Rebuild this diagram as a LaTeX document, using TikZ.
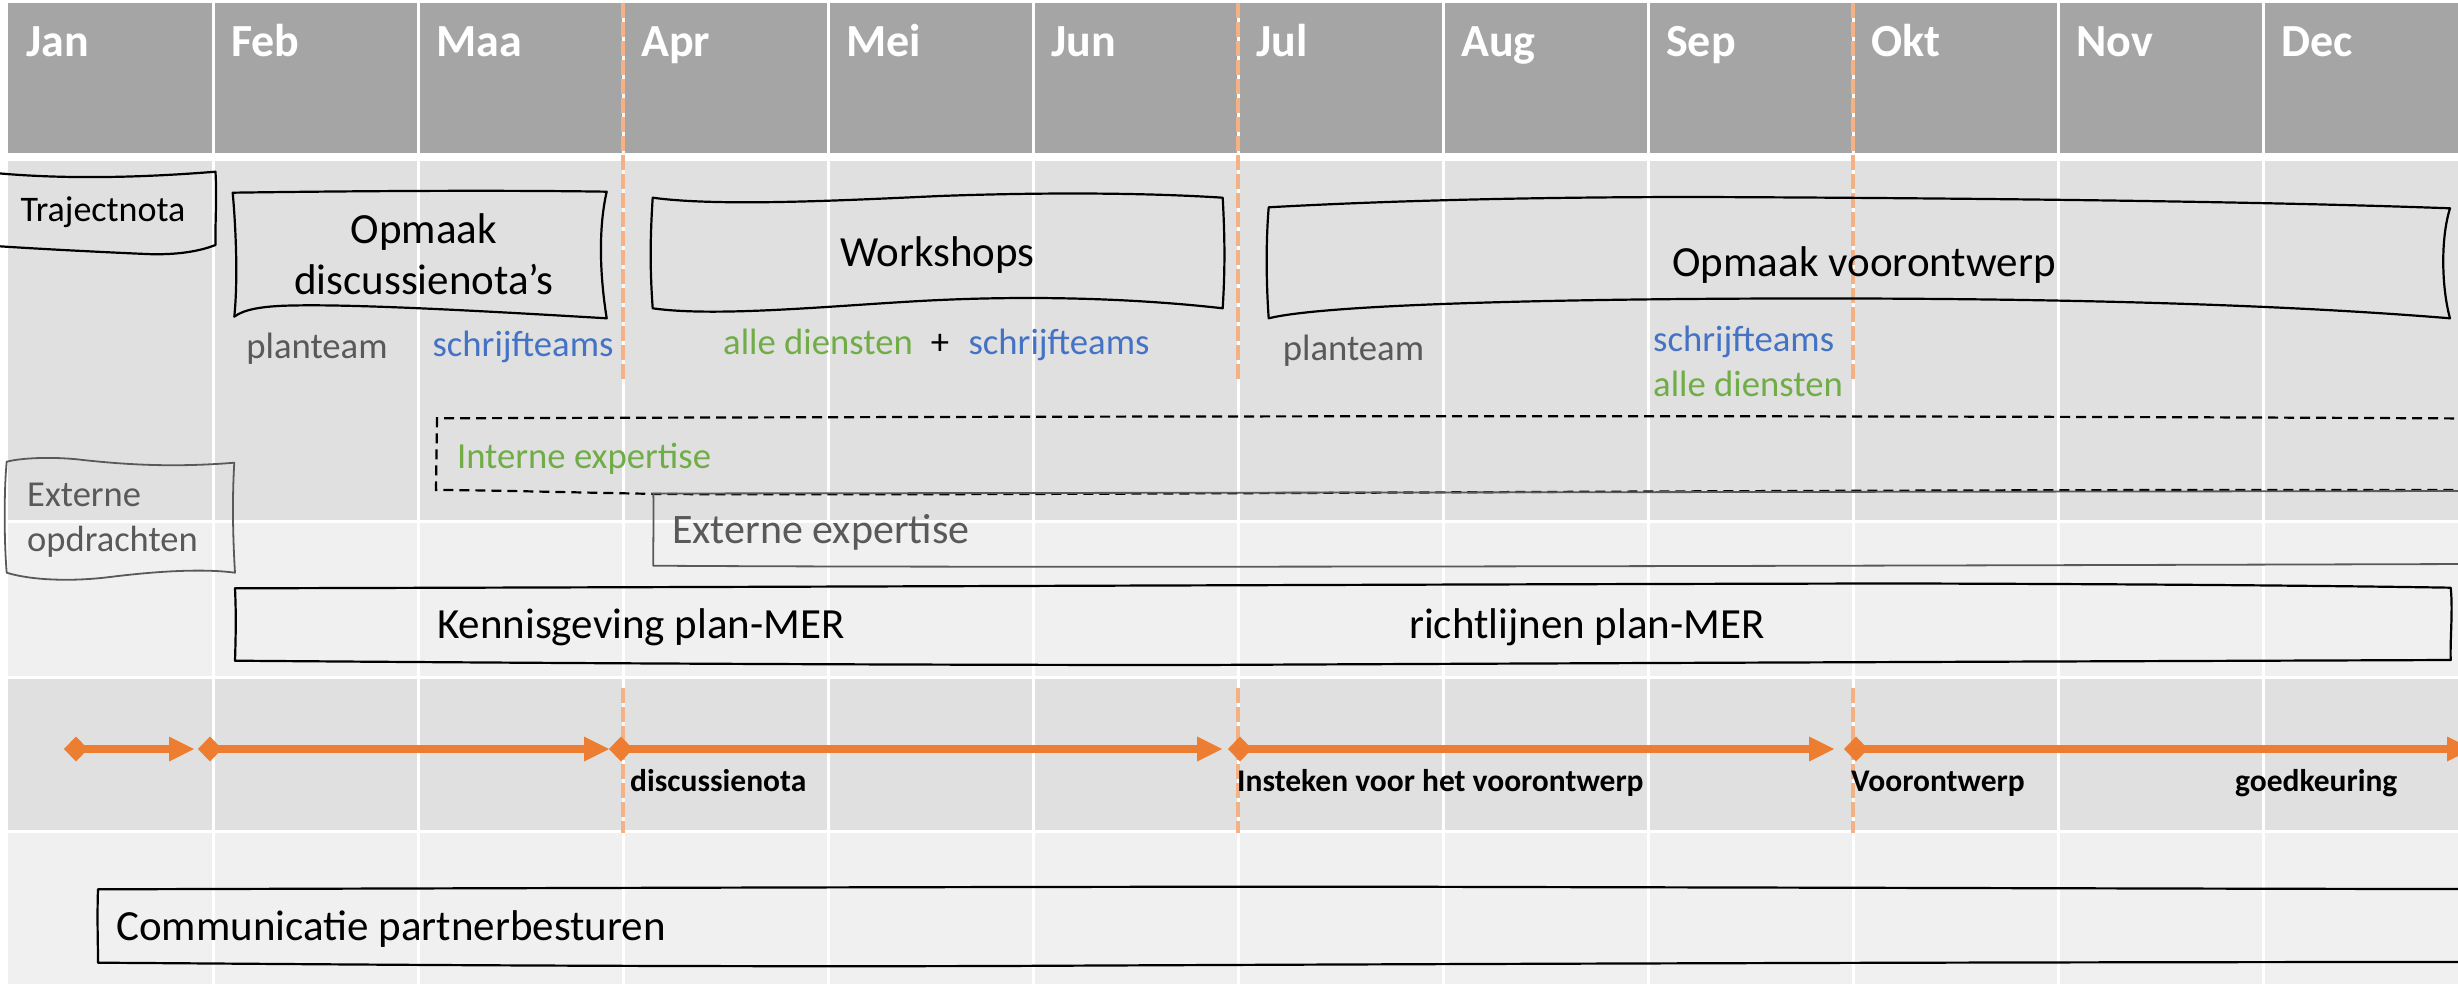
\documentclass[tikz,border=0pt]{standalone}
\usepackage{fontspec}
\setmainfont{Carlito}
\usetikzlibrary{arrows.meta}
\definecolor{hdr}{HTML}{A5A5A5}
\definecolor{bandA}{HTML}{E0E0E0}
\definecolor{bandB}{HTML}{F0F0F0}
\definecolor{txtgrey}{HTML}{595959}
\definecolor{blueT}{HTML}{4472C4}
\definecolor{greenT}{HTML}{70AD47}
\definecolor{orangeA}{HTML}{ED7D31}
\definecolor{orangeL}{HTML}{F4B183}
\begin{document}
\begin{tikzpicture}[x=1pt,y=-1pt,
  month/.style={anchor=base west,inner sep=0,text=white,font=\fontsize{46}{55}\selectfont\bfseries},
  boxline/.style={draw=black,line width=2.2pt,line join=round,line cap=round},
  greybox/.style={draw=txtgrey,line width=1.8pt,line join=round,line cap=round},
  boxtext/.style={anchor=base,inner sep=0,align=center,font=\fontsize{43}{51.7}\selectfont},
  smalltext/.style={anchor=base,inner sep=0,font=\fontsize{36.7}{45}\selectfont},
  milestone/.style={anchor=base west,inner sep=0,font=\fontsize{31.5}{38}\selectfont\bfseries},
  msarrow/.style={draw=orangeA,line width=8pt,{Diamond[length=24pt,width=25pt,line width=0pt]}-{Triangle[length=25pt,width=25pt,line width=0pt]}},
  msline/.style={draw=orangeL,line width=3.5pt,dash pattern=on 15pt off 4pt}]
\useasboundingbox (0,0) rectangle (2458,984);
% bands
\fill[hdr] (8,3) rectangle (2458,153);
\fill[bandA] (8,161) rectangle (2458,520);
\fill[bandB] (8,523) rectangle (2458,676);
\fill[bandA] (8,679) rectangle (2458,830);
\fill[bandB] (8,833) rectangle (2458,984);
\foreach \i in {1,...,11} \draw[white,line width=3pt] ({8+205*\i},0) -- ({8+205*\i},984);
% months
\foreach \m [count=\i from 0] in {Jan,Feb,Maa,Apr,Mei,Jun,Jul,Aug,Sep,Okt,Nov,Dec}
  \node[month] (m\i) at ({8+205*\i+18},57) {\m};
% milestone dashed lines
\foreach \x in {623,1238,1853} {
  \draw[msline] (\x,3) -- (\x,380);
  \draw[msline] (\x,688) -- (\x,833);
}
% Trajectnota
\draw[boxline] (-5,173) .. controls (70,180) and (150,177) .. (215.5,171.7)
  .. controls (217,200) and (215,225) .. (215.5,245)
  .. controls (195,253) and (170,255) .. (146,254)
  .. controls (100,252) and (40,249) .. (-5,246);
\node[boxtext,font=\fontsize{36}{43}\selectfont] (traj) at (103,221.7) {Trajectnota};
% Opmaak discussienota's
\draw[boxline] (232.7,192.7) .. controls (350,191) and (500,190) .. (606.7,191.7)
  .. controls (599,225) and (599,270) .. (606.7,318.3)
  .. controls (500,312) and (360,304) .. (293,305.5)
  .. controls (260,306) and (243,310) .. (234.3,316.7)
  .. controls (238,280) and (236,230) .. cycle;
\node[boxtext] (disc) at (424,295) {Opmaak\\discussienota’s};
% Workshops
\draw[boxline] (652.7,197.7) .. controls (720,207) and (850,200) .. (940,196)
  .. controls (1050,192) and (1150,193) .. (1222.7,197.7)
  .. controls (1225,240) and (1225,270) .. (1222.7,308.3)
  .. controls (1150,300) and (1050,295) .. (940,300)
  .. controls (850,304) and (720,318) .. (652.7,308.3)
  .. controls (650,270) and (650,240) .. cycle;
\node[boxtext] (work) at (937.5,266.7) {Workshops};
% Opmaak voorontwerp
\draw[boxline] (1268.7,207.3) .. controls (1400,200) and (1550,197) .. (1700,197)
  .. controls (1950,198) and (2250,201) .. (2450,208.3)
  .. controls (2440,240) and (2442,290) .. (2450,318.3)
  .. controls (2300,306) and (2100,299) .. (1850,298.5)
  .. controls (1600,298) and (1330,303) .. (1268.7,318.3)
  .. controls (1266,280) and (1266,240) .. cycle;
\node[boxtext] (voor) at (1864,276.7) {Opmaak voorontwerp};
% team labels
\node[smalltext,text=txtgrey] (pt1) at (317,358) {planteam};
\node[smalltext,text=blueT] (st1) at (523,356.7) {schrijfteams};
\node[smalltext,text=greenT] (ad1) at (818,355) {alle diensten};
\node[smalltext] (plus) at (940,355) {+};
\node[smalltext,text=blueT] (st2) at (1059,355) {schrijfteams};
\node[smalltext,text=txtgrey] (pt2) at (1353.5,360) {planteam};
\node[smalltext,text=blueT,anchor=base west] (st3) at (1653,351.7) {schrijfteams};
\node[smalltext,text=greenT,anchor=base west] (ad3) at (1653,396) {alle diensten};
% Interne expertise
\draw[line width=2.2pt,dash pattern=on 10pt off 6pt] (2470,418.5) .. controls (1800,415) and (1200,416) .. (437,418.3)
  -- (436,490) .. controls (480,490) and (550,492) .. (660,494)
  .. controls (1000,496) and (1800,489) .. (2470,490);
\node[smalltext,text=greenT] (intern) at (584,468.3) {Interne expertise};
% Externe expertise
\draw[greybox] (2470,491) .. controls (1800,492) and (1000,493) .. (653.3,493.5)
  .. controls (654,520) and (653,545) .. (653.3,565.7)
  .. controls (1000,568) and (1800,566) .. (2470,564);
\node[anchor=base west,inner sep=0,text=txtgrey,font=\fontsize{42}{50}\selectfont] (extexp) at (672,543.3) {Externe expertise};
% Externe opdrachten
\draw[greybox] (6.7,461.7) .. controls (25,457) and (60,457) .. (83,460)
  .. controls (120,464) and (170,468) .. (234.3,462.7)
  .. controls (232,500) and (233,540) .. (235,572.7)
  .. controls (200,568) and (150,572) .. (110,577)
  .. controls (70,582) and (30,580) .. (6.7,572.7)
  .. controls (4,540) and (4,490) .. cycle;
\node[anchor=base west,inner sep=0,align=left,text=txtgrey,font=\fontsize{36.5}{45}\selectfont] (extopd) at (27,551.7) {Externe\\opdrachten};
% Kennisgeving
\draw[boxline] (235,588.3) .. controls (800,587) and (1500,584) .. (1900,583.5)
  .. controls (2150,584) and (2350,586) .. (2450.7,587.7)
  .. controls (2453,610) and (2450,640) .. (2450.7,660)
  .. controls (2200,661) and (1600,663) .. (1200,665)
  .. controls (800,665) and (400,662) .. (235,660.7)
  .. controls (236,630) and (236,610) .. cycle;
\node[boxtext] (kenn) at (641,638.3) {Kennisgeving plan-MER};
\node[boxtext] (richt) at (1587,638.3) {richtlijnen plan-MER};
% milestone arrows
\coordinate (a0) at (64,749);  \coordinate (a1) at (194,749);
\coordinate (a2) at (198,749); \coordinate (a3) at (609,749);
\coordinate (a4) at (609,749); \coordinate (a5) at (1222,749);
\coordinate (a6) at (1228,749);\coordinate (a7) at (1834,749);
\coordinate (a8) at (1844,749);\coordinate (a9) at (2472,749);
\draw[msarrow] (a0) -- (a1);
\draw[msarrow] (a2) -- (a3);
\draw[msarrow] (a4) -- (a5);
\draw[msarrow] (a6) -- (a7);
\draw[msarrow] (a8) -- (a9);
\node[milestone] (ms1) at (630,791.7) {discussienota};
\node[milestone] (ms2) at (1237,791.7) {Insteken voor het voorontwerp};
\node[milestone] (ms3) at (1851,791.7) {Voorontwerp};
\node[milestone] (ms4) at (2235,791.7) {goedkeuring};
% Communicatie
\draw[boxline] (2470,889) .. controls (2300,889) and (2000,888) .. (1500,887)
  .. controls (1200,886) and (600,888) .. (98,889.3)
  .. controls (97,920) and (98,940) .. (98,962.7)
  .. controls (300,964) and (600,967) .. (1000,966)
  .. controls (1400,964) and (2000,962) .. (2470,962);
\node[anchor=base west,inner sep=0,font=\fontsize{43}{51.7}\selectfont] (comm) at (116,940) {Communicatie partnerbesturen};
\end{tikzpicture}
\end{document}
